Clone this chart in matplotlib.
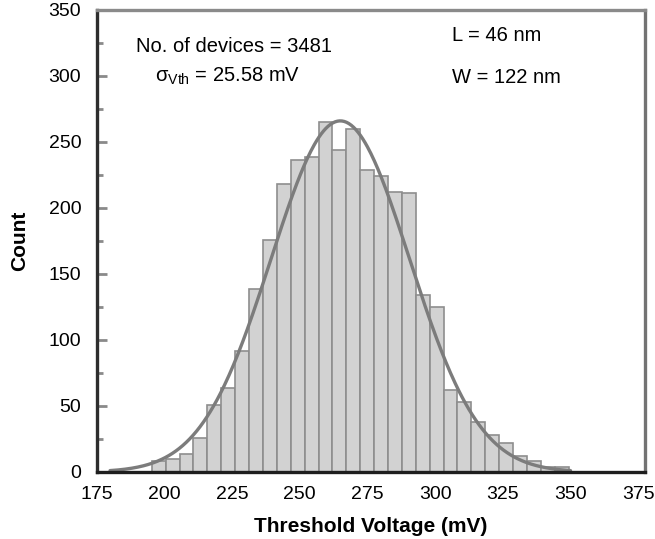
import numpy as np
import matplotlib
matplotlib.use("Agg")
import matplotlib.pyplot as plt
from matplotlib.ticker import MultipleLocator

plt.rcParams['font.family'] = ['Liberation Sans', 'DejaVu Sans']
plt.rcParams['mathtext.fontset'] = 'custom'
plt.rcParams['mathtext.rm'] = 'Liberation Sans'
plt.rcParams['mathtext.it'] = 'Liberation Sans:italic'
plt.rcParams['mathtext.bf'] = 'Liberation Sans:bold'

# ---- data ----
bin_start = 195.4          # mV, left edge of first bin
bin_width = 5.13           # mV
counts = [8, 10, 14, 26, 51, 64, 92, 139, 176, 218, 236, 239, 265, 244, 260,
          229, 224, 212, 211, 134, 125, 62, 53, 38, 28, 22, 12, 8, 4, 4]

fit_mean = 265.0           # mV
fit_sigma = 25.58          # mV
fit_peak = 266.0           # counts
fit_range = (180.0, 350.0)

x_ticks = [175, 200, 225, 250, 275, 300, 325, 350, 375]
y_ticks = [0, 50, 100, 150, 200, 250, 300, 350]

n_devices = 3481
L_nm = 46
W_nm = 122

# ---- figure ----
W_PX, H_PX = 655, 539
fig = plt.figure(figsize=(W_PX / 100, H_PX / 100), dpi=100)
ax = fig.add_axes([96.5 / W_PX, 1 - 472 / H_PX, (645 - 96.5) / W_PX, (472 - 10) / H_PX])

centers = [bin_start + bin_width * (i + 0.5) for i in range(len(counts))]
ax.bar(centers, counts, width=bin_width, align='center',
       facecolor='#d2d2d2', edgecolor='#8e8e8e', linewidth=1.2, zorder=2)

xs = np.linspace(fit_range[0], fit_range[1], 400)
ys = fit_peak * np.exp(-0.5 * ((xs - fit_mean) / fit_sigma) ** 2)
ax.plot(xs, ys, color='#7c7c7c', linewidth=2.4, zorder=3, solid_capstyle='round')

ax.set_xlim(175, 377.5)
ax.set_ylim(0, 350)

ax.set_xticks(x_ticks)
ax.set_xticklabels([str(v) for v in x_ticks])
ax.set_yticks(y_ticks)
ax.set_yticklabels([str(v) for v in y_ticks])
ax.yaxis.set_minor_locator(MultipleLocator(25))

ax.tick_params(axis='x', which='both', length=0, pad=10, labelsize=14)
ax.tick_params(axis='y', which='major', direction='in', length=7, width=2,
               color='#8a8a8a', pad=11, labelsize=14)
ax.tick_params(axis='y', which='minor', direction='in', length=4.5, width=2,
               color='#8a8a8a')
ax.tick_params(top=False, right=False)

ax.spines['left'].set_color('#2e2e2e')
ax.spines['left'].set_linewidth(2.4)
ax.spines['bottom'].set_color('#1e1e1e')
ax.spines['bottom'].set_linewidth(2.4)
ax.spines['top'].set_color('#8a8a8a')
ax.spines['top'].set_linewidth(2.4)
ax.spines['right'].set_color('#737373')
ax.spines['right'].set_linewidth(2.4)
for s in ax.spines.values():
    s.set_zorder(5)

ax.set_xlabel('Threshold Voltage (mV)', fontsize=15, fontweight='bold', labelpad=10)
ax.set_ylabel('Count', fontsize=15, fontweight='bold', labelpad=14)

ax.text(225.8, 322, f'No. of devices = {n_devices}', fontsize=14.5,
        ha='center', va='center', zorder=6)
ax.text(223.6, 300, r'$\mathrm{\sigma}_{\mathrm{Vth}}$' + f' = {fit_sigma:.2f} mV',
        fontsize=14.5, ha='center', va='center', zorder=6)
ax.text(306.3, 331, f'L = {L_nm} nm', fontsize=14.5, ha='left', va='center', zorder=6)
ax.text(306.3, 299, f'W = {W_nm} nm', fontsize=14.5, ha='left', va='center', zorder=6)

fig.savefig('out.png', dpi=100)
